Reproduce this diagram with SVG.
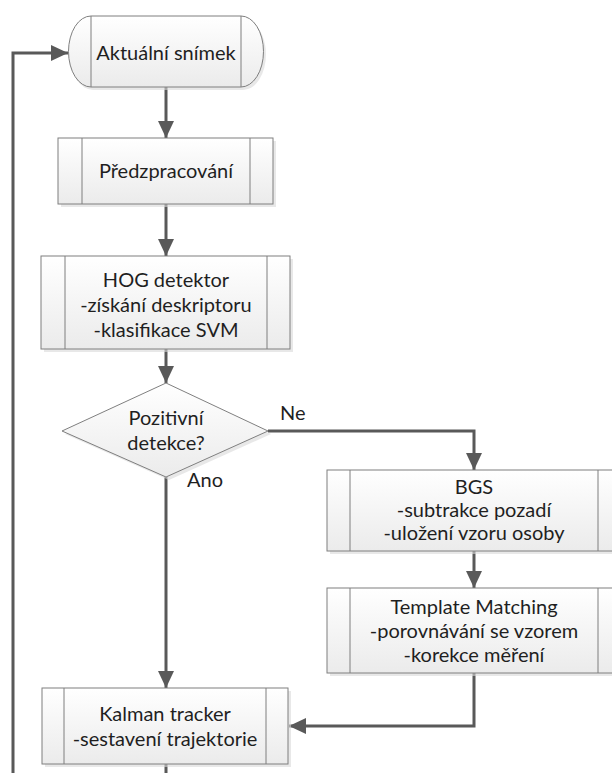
<svg xmlns="http://www.w3.org/2000/svg" width="612" height="773" viewBox="0 0 612 773">
<defs>
<linearGradient id="g" x1="0" y1="0" x2="0" y2="1">
<stop offset="0" stop-color="#ffffff"/>
<stop offset="1" stop-color="#ebebeb"/>
</linearGradient>
<marker id="ah" markerUnits="userSpaceOnUse" markerWidth="18" markerHeight="18" viewBox="0 0 18 18" refX="17" refY="9" orient="auto">
<path d="M0,1 L17,9 L0,17 Z" fill="#595959"/>
</marker>
<style>
.shape{fill:url(#g);stroke:#7f7f7f;stroke-width:1}
.shadow{fill:#d9d9d9;stroke:none;opacity:0.6}
.inner{stroke:#7f7f7f;stroke-width:1;fill:none}
.conn{fill:none;stroke:#595959;stroke-width:3;marker-end:url(#ah)}
text{font-family:Lato,"Open Sans","Liberation Sans",sans-serif;font-size:20px;fill:#1f1f1f;text-anchor:middle}
.lbl{text-anchor:start}
</style>
</defs>

<g id="connectors">
<path class="conn" d="M166,87 V138"/>
<path class="conn" d="M166,204 V256"/>
<path class="conn" d="M166,349 V383"/>
<path class="conn" d="M268,431 H474 V470"/>
<path class="conn" d="M166,477 V688"/>
<path class="conn" d="M474,551 V588"/>
<path class="conn" d="M474,673 V726 H289"/>
<path class="conn" d="M166,764 V790 H13 V53 H68"/>
</g>

<g id="start">
<path class="shadow" d="M93,19 H243 A23,35.5 0 0 1 243,90 H93 A23,35.5 0 0 1 93,19 Z"/>
<path class="shape" d="M91,16 H241 A22.5,35.5 0 0 1 241,87 H91 A22.5,35.5 0 0 1 91,16 Z"/>
<line class="inner" x1="91" y1="16" x2="91" y2="87"/>
<line class="inner" x1="241" y1="16" x2="241" y2="87"/>
<text x="166" y="60">Aktuální snímek</text>
</g>

<g id="predzpracovani">
<rect class="shadow" x="61" y="141" width="215" height="66"/>
<rect class="shape" x="58" y="138" width="215" height="66"/>
<line class="inner" x1="82" y1="138" x2="82" y2="204"/>
<line class="inner" x1="250" y1="138" x2="250" y2="204"/>
<text x="166" y="178">Předzpracování</text>
</g>

<g id="hog">
<rect class="shadow" x="44" y="259" width="249" height="93"/>
<rect class="shape" x="41" y="256" width="249" height="93"/>
<line class="inner" x1="65" y1="256" x2="65" y2="349"/>
<line class="inner" x1="267" y1="256" x2="267" y2="349"/>
<text x="166" y="287">HOG detektor</text>
<text x="166" y="312">-získání deskriptoru</text>
<text x="166" y="337">-klasifikace SVM</text>
</g>

<g id="decision">
<path class="shadow" d="M169,386 L271,434 L169,480 L65,434 Z"/>
<path class="shape" d="M166,383 L268,431 L166,477 L62,431 Z"/>
<text x="166" y="425">Pozitivní</text>
<text x="166" y="450">detekce?</text>
</g>

<g id="bgs">
<rect class="shadow" x="330" y="473" width="294" height="81"/>
<rect class="shape" x="327" y="470" width="294" height="81"/>
<line class="inner" x1="350" y1="470" x2="350" y2="551"/>
<line class="inner" x1="598" y1="470" x2="598" y2="551"/>
<text x="474" y="494">BGS</text>
<text x="474" y="517">-subtrakce pozadí</text>
<text x="474" y="540">-uložení vzoru osoby</text>
</g>

<g id="template">
<rect class="shadow" x="330" y="591" width="294" height="85"/>
<rect class="shape" x="327" y="588" width="294" height="85"/>
<line class="inner" x1="350" y1="588" x2="350" y2="673"/>
<line class="inner" x1="598" y1="588" x2="598" y2="673"/>
<text x="474" y="614">Template Matching</text>
<text x="474" y="638">-porovnávání se vzorem</text>
<text x="474" y="662">-korekce měření</text>
</g>

<g id="kalman">
<rect class="shadow" x="45" y="691" width="246" height="76"/>
<rect class="shape" x="42" y="688" width="246" height="76"/>
<line class="inner" x1="64" y1="688" x2="64" y2="764"/>
<line class="inner" x1="266" y1="688" x2="266" y2="764"/>
<text x="165" y="721">Kalman tracker</text>
<text x="165" y="746">-sestavení trajektorie</text>
</g>

<g id="labels">
<text class="lbl" x="280" y="420">Ne</text>
<text class="lbl" x="187" y="487">Ano</text>
</g>
</svg>
